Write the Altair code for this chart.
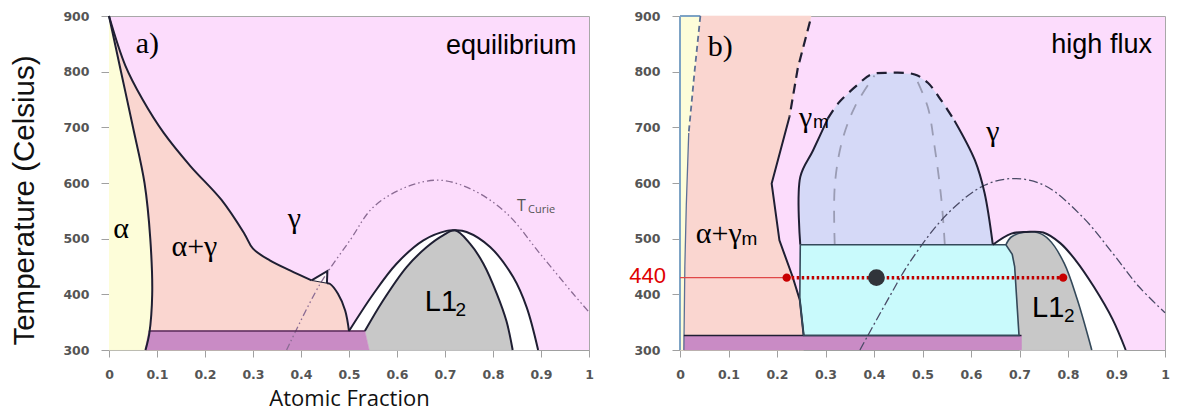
import altair as alt
import pandas as pd

# ---------------- axes ----------------
X_TICKS = [0, 0.1, 0.2, 0.3, 0.4, 0.5, 0.6, 0.7, 0.8, 0.9, 1]
Y_TICKS = [300, 400, 500, 600, 700, 800, 900]
X_DOMAIN = [0, 1]
Y_DOMAIN = [300, 900]

# ---------------- panel a) equilibrium ----------------
A_ALPHA_X = [0.0, 0.025, 0.050, 0.074, 0.086, 0.090, 0.084, 0.076]
A_ALPHA_T = [900, 800, 700, 600, 500, 400, 330, 300]

# gamma solvus: upper smooth part, small triangle, lower smooth part
A_SOLVUS_UP_X = [0.0, 0.034, 0.070, 0.114, 0.170, 0.234, 0.282, 0.300, 0.335, 0.377, 0.422]
A_SOLVUS_UP_T = [900, 811, 750, 690, 630, 570, 509, 482, 461, 443, 425]
A_TRI_X = [0.422, 0.455, 0.454]
A_TRI_T = [425, 442, 420]
A_SOLVUS_LOW_X = [0.454, 0.460, 0.477, 0.492, 0.500]
A_SOLVUS_LOW_T = [420, 419, 401, 371, 334]

A_OUTER_X = [0.500, 0.551, 0.599, 0.655, 0.703, 0.721, 0.745, 0.794, 0.842, 0.870, 0.894]
A_OUTER_T = [334, 401, 455, 497, 514, 515, 512, 485, 431, 377, 300]

A_INNER_X = [0.533, 0.571, 0.620, 0.662, 0.696, 0.721, 0.752, 0.780, 0.808, 0.828, 0.841]
A_INNER_T = [334, 389, 449, 485, 506, 515, 491, 455, 401, 352, 300]

A_PURPLE_X = [0.075, 0.083, 0.533, 0.542]
A_PURPLE_T = [300, 334, 334, 300]

A_CURIE_X = [0.370, 0.440, 0.502, 0.551, 0.620, 0.690, 0.759, 0.829, 0.898, 0.967, 1.0]
A_CURIE_T = [300, 419, 497, 557, 593, 605, 587, 545, 473, 401, 368]

A_SERIF_TEXT = ["a)", "α", "α+γ", "γ"]
A_SERIF_X = [0.080, 0.025, 0.178, 0.386]
A_SERIF_T = [850, 518, 485, 536]

# ---------------- panel b) high flux ----------------
B_YEL_X = [0.042, 0.030, 0.018, 0.013, 0.010, 0.008]
B_YEL_T = [900, 800, 690, 560, 450, 300]

B_GM_DASH_X = [0.268, 0.243, 0.226]
B_GM_DASH_T = [890, 807, 720]
B_GM_SOLID_X = [0.226, 0.189, 0.205, 0.232, 0.247, 0.255]
B_GM_SOLID_T = [720, 599, 497, 432, 390, 326]

B_DOME_L_X = [0.248, 0.248, 0.274, 0.305]
B_DOME_L_T = [489, 611, 658, 716]
B_DOME_TOP_X = [0.305, 0.326, 0.367, 0.394, 0.430, 0.484, 0.511, 0.539, 0.566]
B_DOME_TOP_T = [716, 743, 777, 795, 798, 795, 780, 748, 712]
B_DOME_R_X = [0.566, 0.608, 0.628, 0.645]
B_DOME_R_T = [712, 641, 582, 489]

B_INNER_L_X = [0.319, 0.319, 0.333, 0.360, 0.401]
B_INNER_L_T = [489, 593, 671, 736, 793]
B_INNER_R_X = [0.546, 0.539, 0.525, 0.511, 0.484]
B_INNER_R_T = [489, 570, 665, 736, 793]

B_CYAN_X = [0.248, 0.672, 0.685, 0.690, 0.699, 0.255, 0.247, 0.248]
B_CYAN_T = [489, 489, 472, 450, 326, 326, 390, 489]

B_INNER_X = [0.672, 0.683, 0.707, 0.737, 0.761, 0.792, 0.819, 0.849]
B_INNER_T = [489, 503, 511, 511, 498, 456, 391, 300]

B_OUTER_X = [0.645, 0.683, 0.714, 0.749, 0.784, 0.815, 0.853, 0.892, 0.919]
B_OUTER_T = [489, 509, 512, 511, 492, 462, 414, 355, 300]

B_PURPLE_X = [0.008, 0.008, 0.704, 0.704]
B_PURPLE_T = [300, 326, 326, 300]

B_CURIE_X = [0.371, 0.425, 0.477, 0.553, 0.628, 0.690, 0.753, 0.830, 0.892, 0.946, 1.0]
B_CURIE_T = [300, 385, 462, 546, 596, 608, 595, 539, 474, 414, 367]

B_LINE_T = 430          # level of the red tie line (labelled 440)
B_LINE_LABEL = "440"
B_TIE_X = [0.22, 0.79]
B_CENTER_X = [0.405]

B_SERIF_TEXT = ["b)", "γ", "α+γ", "γ"]
B_SERIF_X = [0.083, 0.259, 0.080, 0.645]
B_SERIF_T = [845, 717, 509, 691]
B_SUB_TEXT = ["m", "m"]
B_SUB_X = [0.274, 0.127]
B_SUB_T = [709, 500]

# ---------------- colours ----------------
PINK = "#fcdcfc"
YELLOW = "#fdfdd9"
SALMON = "#fad6d0"
PURPLE = "#c98bc5"
GRAY = "#c8c8c8"
LAVENDER = "#d5d9f7"
CYAN = "#c9fafc"
WHITE = "#ffffff"
LINE = "#1f1f33"
SLATE = "#34495a"
SERIF = "Liberation Serif, DejaVu Serif, serif"


def frame(xs, ts):
    return pd.DataFrame({"x": xs, "T": ts, "i": list(range(len(xs)))})


def make_enc(xtitle, ytitle):
    X = alt.X("x:Q", scale=alt.Scale(domain=X_DOMAIN, nice=False, zero=False),
              axis=alt.Axis(values=X_TICKS, format="~g", title=xtitle))
    Y = alt.Y("T:Q", scale=alt.Scale(domain=Y_DOMAIN, nice=False, zero=False),
              axis=alt.Axis(values=Y_TICKS, format="d", title=ytitle, titleY=184))
    return X, Y


def poly(xs, ts, color, X, Y):
    return alt.Chart(frame(xs, ts)).mark_line(
        fill=color, stroke=color, strokeWidth=0.6, interpolate="linear"
    ).encode(x=X, y=Y, order="i:Q")


def curve(xs, ts, color, width, X, Y, dash=None, interp="linear"):
    kw = dict(color=color, strokeWidth=width, interpolate=interp)
    if dash is not None:
        kw["strokeDash"] = dash
    return alt.Chart(frame(xs, ts)).mark_line(**kw).encode(x=X, y=Y, order="i:Q")


def texts(xs, ts, labels, X, Y, font, size, align="center", color="black"):
    df = pd.DataFrame({"x": xs, "T": ts, "label": labels})
    return alt.Chart(df).mark_text(font=font, fontSize=size, align=align,
                                   baseline="middle", color=color).encode(
        x=X, y=Y, text="label:N")


# ================= panel a =================
XA, YA = make_enc("Atomic Fraction", "Temperature (Celsius)")
a_solvus_x = A_SOLVUS_UP_X + A_TRI_X[1:] + A_SOLVUS_LOW_X[1:]
a_solvus_t = A_SOLVUS_UP_T + A_TRI_T[1:] + A_SOLVUS_LOW_T[1:]
a_salmon_x = a_solvus_x + [0.5] + A_ALPHA_X[::-1]
a_salmon_t = a_solvus_t + [300] + A_ALPHA_T[::-1]
a_layers = [
    poly([0.0] + A_ALPHA_X + [0.0], [900] + A_ALPHA_T + [300], YELLOW, XA, YA),
    poly(a_salmon_x, a_salmon_t, SALMON, XA, YA),
    poly(A_TRI_X, A_TRI_T, "#fbf4f6", XA, YA),
    poly(A_OUTER_X + [0.5], A_OUTER_T + [300], WHITE, XA, YA),
    poly(A_INNER_X + [0.542], A_INNER_T + [300], GRAY, XA, YA),
    poly(A_PURPLE_X, A_PURPLE_T, PURPLE, XA, YA),
    curve(A_CURIE_X, A_CURIE_T, "#8a6b93", 1.3, XA, YA, dash=[7, 3, 1.5, 3, 1.5, 3], interp="catmull-rom"),
    curve(A_PURPLE_X[1:3], A_PURPLE_T[1:3], "#5a2a5a", 1.5, XA, YA),
    curve(A_ALPHA_X, A_ALPHA_T, LINE, 2, XA, YA, interp="catmull-rom"),
    curve(A_SOLVUS_UP_X, A_SOLVUS_UP_T, LINE, 2, XA, YA, interp="catmull-rom"),
    curve(A_TRI_X, A_TRI_T, LINE, 2, XA, YA),
    curve([A_TRI_X[0], A_TRI_X[2]], [A_TRI_T[0], A_TRI_T[2]], LINE, 1, XA, YA),
    curve(A_SOLVUS_LOW_X, A_SOLVUS_LOW_T, LINE, 2, XA, YA, interp="catmull-rom"),
    curve(A_OUTER_X, A_OUTER_T, LINE, 2, XA, YA, interp="catmull-rom"),
    curve(A_INNER_X, A_INNER_T, LINE, 2, XA, YA, interp="catmull-rom"),
    texts(A_SERIF_X, A_SERIF_T, A_SERIF_TEXT, XA, YA, SERIF, 30),
    texts([0.974], [847], ["equilibrium"], XA, YA, "Liberation Sans", 27, align="right"),
    texts([0.658], [387], ["L1"], XA, YA, "Liberation Sans", 29, align="left"),
    texts([0.722], [372], ["2"], XA, YA, "Liberation Sans", 19, align="left"),
    texts([0.850], [558], ["T"], XA, YA, "Open Sans", 16, align="left", color="#555"),
    texts([0.873], [551], ["Curie"], XA, YA, "Open Sans", 11, align="left", color="#555"),
]
left = alt.layer(*a_layers).properties(width=480, height=334)

# ================= panel b =================
XB, YB = make_enc("", "")
b_gm_x = B_GM_DASH_X + B_GM_SOLID_X[1:]
b_gm_t = B_GM_DASH_T + B_GM_SOLID_T[1:]
b_dome_x = B_DOME_L_X + B_DOME_TOP_X[1:] + B_DOME_R_X[1:]
b_dome_t = B_DOME_L_T + B_DOME_TOP_T[1:] + B_DOME_R_T[1:]
b_gray_x = B_INNER_X + [0.704] + B_CYAN_X[4:1:-1]
b_gray_t = B_INNER_T + [300] + B_CYAN_T[4:1:-1]
b_layers = [
    poly([0.0, 0.270] + b_gm_x + [0.255, 0.0], [900, 900] + b_gm_t + [300, 300], SALMON, XB, YB),
    poly([0.0] + B_YEL_X + [0.0], [900] + B_YEL_T + [300], YELLOW, XB, YB),
    poly(b_dome_x, b_dome_t, LAVENDER, XB, YB),
    poly(B_OUTER_X + [0.700], B_OUTER_T + [300], WHITE, XB, YB),
    poly(B_CYAN_X, B_CYAN_T, CYAN, XB, YB),
    poly(b_gray_x, b_gray_t, GRAY, XB, YB),
    poly(B_PURPLE_X, B_PURPLE_T, PURPLE, XB, YB),
    curve(B_INNER_L_X, B_INNER_L_T, "#9a9cb4", 1.8, XB, YB, dash=[12, 10], interp="catmull-rom"),
    curve(B_INNER_R_X, B_INNER_R_T, "#9a9cb4", 1.8, XB, YB, dash=[12, 10], interp="catmull-rom"),
    curve(B_CURIE_X, B_CURIE_T, "#4a4a66", 1.3, XB, YB, dash=[9, 3, 2, 3], interp="catmull-rom"),
    curve([0.0, 0.0], [300, 900], "#7da3c5", 2, XB, YB),
    curve([0.0, 0.042], [900, 900], "#7da3c5", 2, XB, YB),
    curve(B_YEL_X[:3], B_YEL_T[:3], "#5d6f95", 1.8, XB, YB, dash=[6, 4]),
    curve(B_YEL_X[2:], B_YEL_T[2:], "#5d6f95", 1.3, XB, YB),
    curve(B_PURPLE_X[1:3], B_PURPLE_T[1:3], LINE, 1.5, XB, YB),
    curve(B_GM_DASH_X, B_GM_DASH_T, LINE, 2.2, XB, YB, dash=[10, 6]),
    curve(B_GM_SOLID_X, B_GM_SOLID_T, LINE, 2, XB, YB),
    curve(B_DOME_L_X, B_DOME_L_T, LINE, 2, XB, YB, interp="catmull-rom"),
    curve(B_DOME_TOP_X, B_DOME_TOP_T, LINE, 2.2, XB, YB, dash=[10, 7], interp="catmull-rom"),
    curve(B_DOME_R_X, B_DOME_R_T, LINE, 2, XB, YB, interp="catmull-rom"),
    curve(B_CYAN_X, B_CYAN_T, SLATE, 1.6, XB, YB),
    curve(b_gray_x[:8], b_gray_t[:8], SLATE, 1.6, XB, YB, interp="catmull-rom"),
    curve(B_OUTER_X, B_OUTER_T, LINE, 2, XB, YB, interp="catmull-rom"),
    curve([0.0, B_TIE_X[0]], [B_LINE_T, B_LINE_T], "#e04848", 1.2, XB, YB),
    curve(B_TIE_X, [B_LINE_T, B_LINE_T], "#c00000", 3.5, XB, YB, dash=[2.5, 2.5]),
    alt.Chart(pd.DataFrame({"x": B_TIE_X, "T": [B_LINE_T] * 2})).mark_circle(
        color="#c80000", size=70, opacity=1).encode(x=XB, y=YB),
    alt.Chart(pd.DataFrame({"x": B_CENTER_X, "T": [B_LINE_T]})).mark_circle(
        color="#30343a", size=280, opacity=1).encode(x=XB, y=YB),
    alt.Chart(pd.DataFrame({"T": [B_LINE_T], "label": [B_LINE_LABEL]})).mark_text(
        font="Liberation Sans", fontSize=22, align="right", baseline="middle",
        dy=-2, color="#e00000").encode(x=alt.value(-14), y=YB, text="label:N"),
    texts(B_SERIF_X, B_SERIF_T, B_SERIF_TEXT, XB, YB, SERIF, 30),
    texts(B_SUB_X, B_SUB_T, B_SUB_TEXT, XB, YB, "Liberation Sans", 19, align="left"),
    texts([0.973], [848], ["high flux"], XB, YB, "Liberation Sans", 27, align="right"),
    texts([0.726], [376], ["L1"], XB, YB, "Liberation Sans", 29, align="left"),
    texts([0.792], [361], ["2"], XB, YB, "Liberation Sans", 19, align="left"),
]
right = alt.layer(*b_layers).properties(width=485, height=334)

chart = alt.hconcat(left, right, spacing=34).properties(
    padding={"left": 1, "top": 1, "right": 0, "bottom": 0}
).configure_view(
    fill=PINK, stroke="#a8a8a8", strokeWidth=1
).configure_axis(
    grid=False, domainColor="#a0a0a0", tickColor="#a0a0a0", labelFlush=False,
    labelFont="DejaVu Sans", labelFontWeight="bold", labelFontSize=12.5,
    labelColor="#555555", titleFontWeight="normal", titleColor="#111111"
).configure_axisX(
    tickSize=7, labelPadding=11, titleFont="Open Sans", titleFontSize=22, titlePadding=8
).configure_axisY(
    tickSize=8, labelPadding=12, titleFont="Liberation Sans", titleFontSize=29.5, titlePadding=23
)

chart.save("out.html", embed_options={"renderer": "svg", "actions": False})
